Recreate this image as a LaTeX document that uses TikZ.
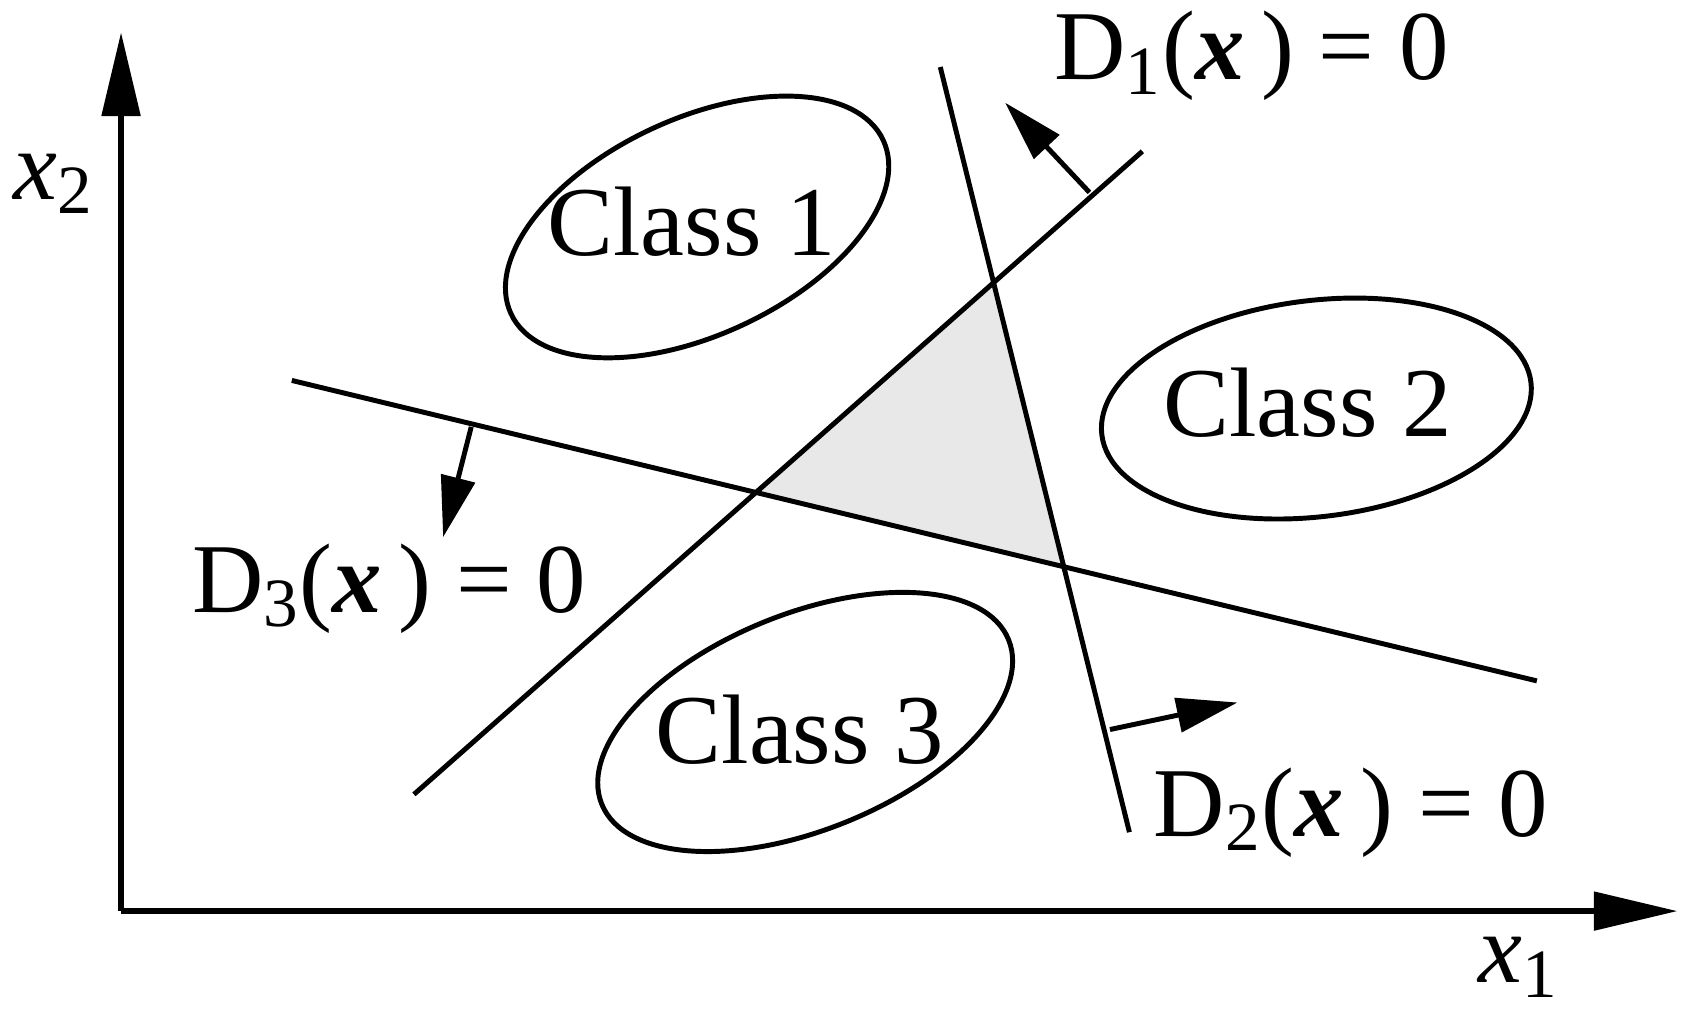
\documentclass[tikz,border=0pt]{standalone}
\usepackage{fontspec}
\setmainfont{Liberation Serif}
\usetikzlibrary{arrows.meta,calc,intersections}
\begin{document}
\begin{tikzpicture}[x=0.01cm,y=-0.01cm,
  ln/.style={line width=1.3pt},
  nrm/.style={line width=1.3pt,-{Triangle[length=16pt,width=9pt]}},
  ax/.style={line width=1.4pt,-{Triangle[length=22pt,width=10pt]}},
  txt/.style={font=\fontsize{26}{31}\selectfont,inner sep=0pt}]
\useasboundingbox (0,0) rectangle (1560,945);
\coordinate (o) at (112,843);
\coordinate (ytop) at (112,30);
\coordinate (xend) at (1552,843);
% lines
\coordinate (a1) at (383,735); \coordinate (a2) at (1057,140);
\coordinate (b1) at (870,62);  \coordinate (b2) at (1045,770);
\coordinate (c1) at (270,352); \coordinate (c2) at (1422,630);
\path[name path=L1] (a1)--(a2);
\path[name path=L2] (b1)--(b2);
\path[name path=L3] (c1)--(c2);
\path[name intersections={of=L1 and L2,by=p12}];
\path[name intersections={of=L1 and L3,by=p13}];
\path[name intersections={of=L2 and L3,by=p23}];
\fill[gray!18] (p12)--(p13)--(p23)--cycle;
\draw[ln] (a1)--(a2);
\draw[ln] (b1)--(b2);
\draw[ln] (c1)--(c2);
\draw[ax] (o)--(ytop);
\draw[ax] (o)--(xend);
% normals
\coordinate (n1s) at (1008,178); \coordinate (n1e) at (930,95);
\coordinate (n3s) at (436,395); \coordinate (n3e) at (410,497);
\coordinate (n2s) at (1027,675); \coordinate (n2e) at (1145,650);
\draw[nrm] (n1s)--(n1e);
\draw[nrm] (n3s)--(n3e);
\draw[nrm] (n2s)--(n2e);
% ellipses
\draw[ln,rotate around={25:(645,210)}] (645,210) ellipse [x radius=190,y radius=100];
\draw[ln,rotate around={7:(1218,378)}] (1218,378) ellipse [x radius=200,y radius=100];
\draw[ln,rotate around={22:(745,668)}] (745,668) ellipse [x radius=203,y radius=100];
\node[txt] (k1) at (640,205) {Class 1};
\node[txt] (k2) at (1210,373) {Class 2};
\node[txt] (k3) at (740,675) {Class 3};
\node[txt] (d1) at (1158,52) {D\textsubscript{1}(\textbf{\textit{x}}\,) = 0};
\node[txt] (d3) at (360,545) {D\textsubscript{3}(\textbf{\textit{x}}\,) = 0};
\node[txt] (d2) at (1250,752) {D\textsubscript{2}(\textbf{\textit{x}}\,) = 0};
\node[txt] (lx2) at (50,170) {\textit{x}\textsubscript{2}};
\node[txt] (lx1) at (1405,895) {\textit{x}\textsubscript{1}};
\end{tikzpicture}
\end{document}
